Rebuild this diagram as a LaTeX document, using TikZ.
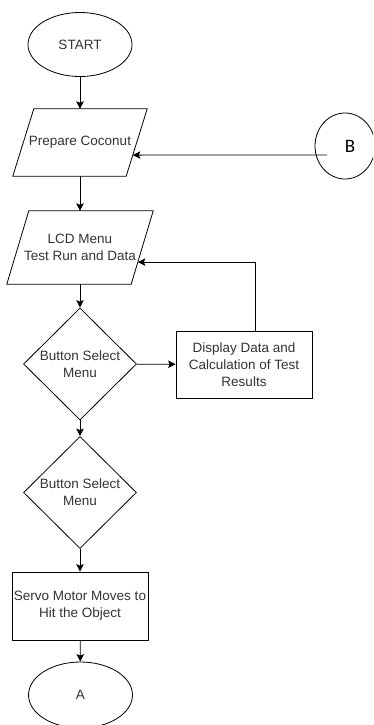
\documentclass[tikz,border=0pt]{standalone}
\usepackage{fontspec}
\setmainfont{Liberation Sans}
\newfontfamily\calib{Carlito}
\usetikzlibrary{arrows.meta,calc,shapes.geometric}
\begin{document}
\begin{tikzpicture}[x=1pt,y=-1pt,
  every node/.style={font=\fontsize{13.5}{16.8}\selectfont, text=black!80, align=center, inner sep=0pt},
  term/.style={draw, ellipse, minimum width=104, minimum height=64, line width=0.8pt},
  pbox/.style={minimum width=#1},
  rbox/.style={draw, rectangle, line width=0.8pt},
  dec/.style={draw, diamond, minimum width=113, minimum height=112, line width=0.8pt, aspect=1},
  arr/.style={draw, line width=0.8pt, -{Stealth[length=7.5pt,width=7.5pt,inset=1.5pt]}},
  para/.style={draw, line width=0.8pt, line join=miter}
]
\clip (0,0) rectangle (373,725);
\fill[white] (0,0) rectangle (373,725);

\node[term] (start) at (80,44.5) {START};
\node[pbox=134, minimum height=67] (prep) at (80,142.5) {Prepare Coconut};
\draw[para] ([xshift=21]prep.north west) -- (prep.north east) -- ([xshift=-21]prep.south east) -- (prep.south west) -- cycle;

\node[draw, ellipse, minimum width=60, minimum height=66, line width=0.8pt] (B) at (345,146) {};
\node[font=\calib\fontsize{19}{20}\selectfont, text=black] (Bt) at (350,146) {B};
\coordinate (Bstart) at ($(B.center)+(-18,9)$);

\node[pbox=146, minimum height=73] (lcd) at (80,247.5) {LCD Menu\\Test Run and Data};
\draw[para] ([xshift=22]lcd.north west) -- (lcd.north east) -- ([xshift=-22]lcd.south east) -- (lcd.south west) -- cycle;

\node[dec] (d1) at (80,364) {Button Select\\Menu};
\node[rbox, minimum width=136, minimum height=67] (disp) at (244,364.5) {Display Data and\\Calculation of Test\\Results};
\node[dec] (d2) at (80,492.5) {Button Select\\Menu};
\node[rbox, minimum width=136, minimum height=68] (servo) at (80,606) {Servo Motor Moves to\\Hit the Object};
\node[term, minimum width=104, minimum height=66] (A) at (80.5,695) {A};

\coordinate (prepR) at ($(prep.north east)!0.687!([xshift=-21]prep.south east)$);
\coordinate (lcdR) at ($(lcd.north east)!0.699!([xshift=-22]lcd.south east)$);

\draw[arr] (start) -- (prep);
\draw[arr] (Bstart) -- (prepR);
\draw[arr] (prep) -- (lcd);
\draw[arr] (lcd) -- (d1);
\draw[arr] (d1) -- (disp);
\draw[arr] ([xshift=11]disp.north) |- (lcdR);
\draw[arr] (d1) -- (d2);
\draw[arr] (d2) -- (servo);
\draw[arr] (servo) -- (A);
\end{tikzpicture}
\end{document}
